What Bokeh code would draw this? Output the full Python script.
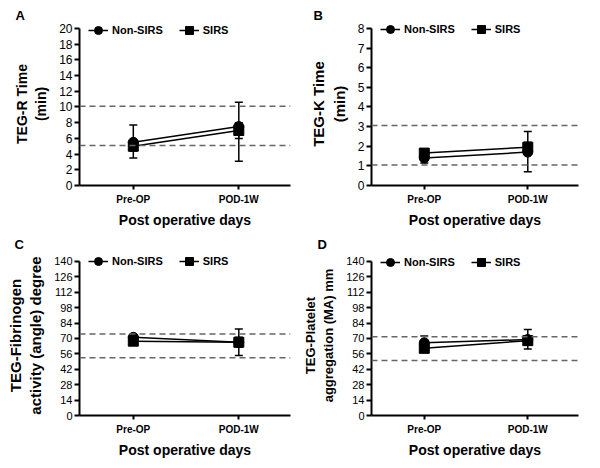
from bokeh.plotting import figure
from bokeh.layouts import gridplot
from bokeh.models import (Range1d, FixedTicker, Whisker, TeeHead, ColumnDataSource,
                          Span, Title, Legend, LegendItem)
from bokeh.embed import file_html
from bokeh.resources import INLINE

FONT = "Liberation Sans"

# ---------------- data ----------------
days = ["Pre-OP", "POD-1W"]
groups = ["Non-SIRS", "SIRS"]

# Panel A: TEG-R time (min)
r_nonsirs = [5.5, 7.5]
r_sirs = [5.0, 7.0]
r_nonsirs_lo = [3.5, 3.1]
r_nonsirs_hi = [7.7, 10.6]
r_sirs_lo = [4.4, 6.0]
r_sirs_hi = [5.6, 8.0]
r_ref = [10.1, 5.1]

# Panel B: TEG-K time (min)
k_nonsirs = [1.4, 1.7]
k_sirs = [1.65, 1.95]
k_nonsirs_lo = [1.15, 0.7]
k_nonsirs_hi = [1.65, 2.75]
k_sirs_lo = [1.5, 1.7]
k_sirs_hi = [1.8, 2.2]
k_ref = [3.05, 1.05]

# Panel C: TEG-Fibrinogen activity (angle) degree
a_nonsirs = [71.0, 66.5]
a_sirs = [67.5, 66.5]
a_nonsirs_lo = [69.0, 54.5]
a_nonsirs_hi = [73.0, 78.5]
a_sirs_lo = [66.0, 62.0]
a_sirs_hi = [69.0, 71.0]
a_ref = [74.0, 52.5]

# Panel D: TEG-Platelet aggregation (MA) mm
m_nonsirs = [66.0, 69.0]
m_sirs = [61.0, 68.0]
m_nonsirs_lo = [62.0, 60.4]
m_nonsirs_hi = [72.2, 78.2]
m_sirs_lo = [58.0, 64.0]
m_sirs_hi = [64.0, 72.0]
m_ref = [71.5, 50.0]

X0, X1 = -0.51, 1.49
EXT = 6  # px of free frame space above the top of the y axis line


def panel(letter, ytitle, ytitle_size, ymax, ystep, tick_size,
          non, sirs, non_lo, non_hi, s_lo, s_hi, refs,
          width, height, bl, br, bt, bb, letter_dx, letter_standoff):
    xs = list(range(len(days)))
    axis_h = height - bt - bb              # pixel height of the y axis line
    ytop = ymax * (axis_h + EXT) / axis_h   # range end slightly above ymax
    p = figure(width=width, height=height, output_backend="svg", toolbar_location=None,
               x_range=Range1d(X0, X1), y_range=Range1d(0, ytop),
               min_border_left=bl, min_border_right=br, min_border_top=bt - EXT,
               min_border_bottom=bb)
    p.outline_line_color = None
    p.grid.visible = False
    p.background_fill_color = "white"
    p.border_fill_color = "white"

    p.title = Title(text=letter, align="left", offset=letter_dx, standoff=letter_standoff,
                    text_font=FONT, text_font_style="bold", text_font_size="13px",
                    text_color="black")

    # axes
    p.xaxis.ticker = FixedTicker(ticks=xs)
    p.xaxis.major_label_overrides = {i: d for i, d in enumerate(days)}
    p.yaxis.ticker = FixedTicker(ticks=[i * ystep for i in range(int(round(ymax / ystep)) + 1)])
    p.yaxis.bounds = (0, ymax)
    for ax in (p.xaxis[0], p.yaxis[0]):
        ax.axis_line_width = 2
        ax.axis_line_color = "black"
        ax.major_tick_line_width = 2
        ax.major_tick_line_color = "black"
        ax.minor_tick_line_color = None
        ax.major_tick_in = 0
        ax.major_label_text_font = FONT
        ax.major_label_text_color = "black"
        ax.axis_label_text_font = FONT
        ax.axis_label_text_font_style = "bold"
        ax.axis_label_text_color = "black"
    p.xaxis.major_tick_out = 4
    p.yaxis.major_tick_out = 5
    p.xaxis.major_label_text_font_size = "10px"
    p.xaxis.major_label_text_font_style = "bold"
    p.xaxis.major_label_standoff = 4
    p.yaxis.major_label_text_font_size = tick_size
    p.yaxis.major_label_standoff = 2
    p.xaxis.axis_label = "Post operative days"
    p.xaxis.axis_label_text_font_size = "14px"
    p.xaxis.axis_label_standoff = 4
    p.yaxis.axis_label = ytitle
    p.yaxis.axis_label_text_font_size = ytitle_size
    p.yaxis.axis_label_standoff = 7

    # reference range lines
    for r in refs:
        p.add_layout(Span(location=r, dimension="width", line_color="#666666",
                          line_width=1.5, line_dash="6 4"))

    src_n = ColumnDataSource(dict(x=xs, y=non, lo=non_lo, hi=non_hi))
    src_s = ColumnDataSource(dict(x=xs, y=sirs, lo=s_lo, hi=s_hi))

    for src in (src_n, src_s):
        p.add_layout(Whisker(source=src, base="x", lower="lo", upper="hi",
                             dimension="height", line_color="black", line_width=1.5,
                             upper_head=TeeHead(size=8, line_width=1.5, line_color="black"),
                             lower_head=TeeHead(size=8, line_width=1.5, line_color="black")))

    ln = p.line("x", "y", source=src_n, line_color="black", line_width=1.5)
    ls = p.line("x", "y", source=src_s, line_color="black", line_width=1.5)
    cn = p.scatter("x", "y", source=src_n, marker="circle", size=10,
                   fill_color="black", line_color="black")
    cs = p.scatter("x", "y", source=src_s, marker="square", size=10,
                   fill_color="black", line_color="black")

    frame_h = axis_h + EXT
    legend = Legend(items=[LegendItem(label=groups[0], renderers=[ln, cn]),
                           LegendItem(label=groups[1], renderers=[ls, cs])],
                    location=(9, frame_h - 20), orientation="horizontal",
                    border_line_color=None, background_fill_alpha=0,
                    margin=0, padding=0, spacing=16, label_standoff=4,
                    glyph_width=20, glyph_height=20, label_height=20,
                    label_text_font=FONT, label_text_font_style="bold",
                    label_text_font_size="11px", label_text_color="black")
    p.add_layout(legend)
    return p


pa = panel("A", "TEG-R Time\n(min)", "14px", 20, 2, "12px",
           r_nonsirs, r_sirs, r_nonsirs_lo, r_nonsirs_hi, r_sirs_lo, r_sirs_hi, r_ref,
           300, 230, 73, 10, 28, 43, -64, 0)
pb = panel("B", "TEG-K Time\n(min)", "15px", 8, 1, "12px",
           k_nonsirs, k_sirs, k_nonsirs_lo, k_nonsirs_hi, k_sirs_lo, k_sirs_hi, k_ref,
           300, 230, 68, 22, 26, 44, -58, 0)
pc = panel("C", "TEG-Fibrinogen\nactivity (angle) degree", "15px", 140, 14, "11px",
           a_nonsirs, a_sirs, a_nonsirs_lo, a_nonsirs_hi, a_sirs_lo, a_sirs_hi, a_ref,
           300, 238, 79, 0, 29, 51, -65, 8)
pd_ = panel("D", "TEG-Platelet\naggregation (MA) mm", "13px", 140, 14, "11px",
            m_nonsirs, m_sirs, m_nonsirs_lo, m_nonsirs_hi, m_sirs_lo, m_sirs_hi, m_ref,
            300, 238, 70, 15, 28, 53, -54, 8)

grid = gridplot([[pa, pb], [pc, pd_]], toolbar_location=None)

open("out.html", "w").write(file_html(grid, INLINE))
